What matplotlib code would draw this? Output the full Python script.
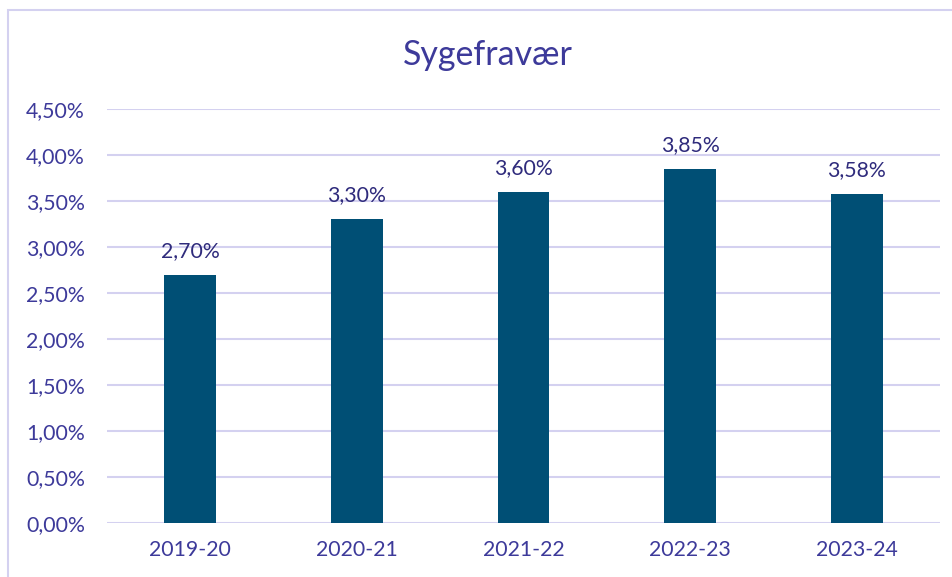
import matplotlib.pyplot as plt
from matplotlib.patches import Rectangle

seasons = ["2019-20", "2020-21", "2021-22", "2022-23", "2023-24"]
absence = [2.70, 3.30, 3.60, 3.85, 3.58]
yticks = [0, 0.5, 1.0, 1.5, 2.0, 2.5, 3.0, 3.5, 4.0, 4.5]

text_col = "#3d3a9a"
label_col = "#2f2b7c"
bar_col = "#004f75"
grid_col = "#d4d1f0"


def pct(v):
    return f"{v:.2f}%".replace(".", ",")


plt.rcParams["font.family"] = ["Lato", "DejaVu Sans"]

fig = plt.figure(figsize=(9.53, 5.77), dpi=100)
ax = fig.add_axes([107 / 953, 1 - 523 / 577, 833 / 953, 414 / 577])

# outer chart frame
fig.patches.append(Rectangle((8 / 953, -0.1), 1.2, 1.1 - 10 / 577,
                             transform=fig.transFigure, fill=False,
                             edgecolor=grid_col, linewidth=1.5))

x = range(len(seasons))
ax.bar(x, absence, width=0.31, color=bar_col, zorder=3)
for xi, v in zip(x, absence):
    ax.annotate(pct(v), (xi, v), xytext=(0, 10), textcoords="offset points",
                ha="center", va="bottom", fontsize=15.3, color=label_col)

ax.set_xlim(-0.5, len(seasons) - 0.5)
ax.set_ylim(0, 4.5)
ax.set_yticks(yticks)
ax.set_yticklabels([pct(t) for t in yticks])
ax.set_xticks(list(x))
ax.set_xticklabels(seasons)
ax.tick_params(length=0, labelsize=15.3, colors=text_col)
ax.tick_params(axis="y", pad=16)
ax.tick_params(axis="x", pad=12)
ax.grid(axis="y", color=grid_col, linewidth=1.5, zorder=0)
for s in ax.spines.values():
    s.set_visible(False)

fig.text(488 / 953, 1 - 55 / 577, "Sygefravær", ha="center", va="center",
         fontsize=24.5, color=text_col)

fig.savefig("out.png", dpi=100)
